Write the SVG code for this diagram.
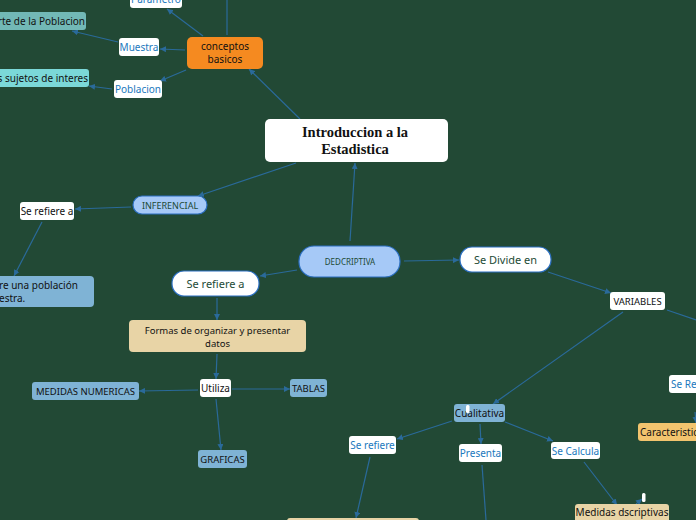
<svg xmlns="http://www.w3.org/2000/svg" width="696" height="520" viewBox="0 0 696 520">
<defs>
<marker id="ah" viewBox="0 0 6 6" refX="6" refY="3" markerWidth="6" markerHeight="6" markerUnits="userSpaceOnUse" orient="auto">
<path d="M0,0 L6,3 L0,6 z" fill="#2a6a9a"/>
</marker>
<style>
.c{stroke:#2a6a9a;stroke-width:1.2;fill:none;marker-end:url(#ah)}
.cn{stroke:#2a6a9a;stroke-width:1.2;fill:none}
.t{font-family:"Noto Sans","Open Sans","DejaVu Sans",sans-serif;font-size:10px;text-anchor:middle}
.k{fill:#111}
.b{fill:#1a78bd}
.g{fill:#1d4a36}
.w{fill:#fff}
.sb{fill:#7fb3d5}
.tan{fill:#e8d4a6}
.pill{fill:#a6c9f7;stroke:#2b6fc2;stroke-width:1.2}
.wp{fill:#fff;stroke:#2b6fc2;stroke-width:1.2}
</style>
</defs>
<rect width="696" height="520" fill="#224935"/>
<g id="connectors">
<line class="cn" x1="227" y1="0" x2="227" y2="35"/>
<line class="c" x1="203" y1="36" x2="167" y2="9"/>
<line class="c" x1="185" y1="50" x2="160" y2="49"/>
<line class="c" x1="118" y1="42" x2="72" y2="31"/>
<line class="c" x1="186" y1="70" x2="160" y2="81"/>
<line class="c" x1="112" y1="89" x2="89" y2="86"/>
<line class="c" x1="300" y1="119" x2="249" y2="69"/>
<line class="c" x1="296" y1="163" x2="198" y2="196"/>
<line class="c" x1="131" y1="207" x2="75" y2="209"/>
<line class="c" x1="42" y1="222" x2="14" y2="276"/>
<line class="c" x1="350" y1="241" x2="355" y2="163"/>
<line class="c" x1="297" y1="270" x2="260" y2="276"/>
<line class="c" x1="404" y1="261" x2="459" y2="260"/>
<line class="c" x1="548" y1="272" x2="611" y2="293"/>
<line class="cn" x1="667" y1="310" x2="696" y2="320"/>
<line class="c" x1="623" y1="312" x2="493" y2="404"/>
<line class="c" x1="452" y1="421" x2="397" y2="439"/>
<line class="c" x1="480" y1="424" x2="481" y2="444"/>
<line class="c" x1="505" y1="422" x2="553" y2="441"/>
<line class="c" x1="584" y1="462" x2="617" y2="505"/>
<line class="c" x1="370" y1="457" x2="356" y2="518"/>
<line class="cn" x1="482" y1="465" x2="486" y2="520"/>
<line class="c" x1="217" y1="298" x2="217" y2="320"/>
<line class="c" x1="217" y1="354" x2="216" y2="379"/>
<line class="c" x1="198" y1="390" x2="139" y2="391"/>
<line class="c" x1="232" y1="389" x2="290" y2="389"/>
<line class="c" x1="216" y1="399" x2="221" y2="450"/>
<line class="c" x1="695" y1="412" x2="696" y2="423"/>
<line class="c" x1="636" y1="504" x2="642" y2="499"/>
</g>
<g id="parametro"><rect class="w" x="130" y="-12" width="52" height="20" rx="3"/><text class="t b" x="156" y="3">Parametro</text></g>
<g id="conceptos"><rect x="187" y="37" width="76" height="32" rx="5" fill="#f58a20"/><text class="t k" x="225" y="50">conceptos</text><text class="t k" x="225" y="63">basicos</text></g>
<g id="muestra"><rect class="w" x="119" y="38" width="40" height="18" rx="3"/><text class="t b" x="139" y="51">Muestra</text></g>
<g id="parte"><rect x="-20" y="12" width="106" height="18" rx="3" fill="#72b8b6"/><text class="t k" x="85" y="25" text-anchor="end" style="text-anchor:end">Parte de la Poblacion</text></g>
<g id="poblacion"><rect class="w" x="114" y="80" width="48" height="18" rx="3"/><text class="t b" x="138" y="93">Poblacion</text></g>
<g id="sujetos"><rect x="-20" y="69" width="109" height="18" rx="3" fill="#7bd8d8"/><text class="t k" x="88" y="82" style="text-anchor:end">s sujetos de interes</text></g>
<g id="intro"><rect class="w" x="265" y="119" width="183" height="43" rx="5"/><text x="355" y="137" font-family="'Liberation Serif','DejaVu Serif',serif" font-weight="bold" font-size="14.5" text-anchor="middle" fill="#111">Introduccion a la</text><text x="355" y="154" font-family="'Liberation Serif','DejaVu Serif',serif" font-weight="bold" font-size="14.5" text-anchor="middle" fill="#111">Estadistica</text></g>
<g id="inferencial"><rect class="pill" x="133" y="196" width="74" height="18" rx="9"/><text class="t g" x="170" y="208.5" style="font-size:9px">INFERENCIAL</text></g>
<g id="serefiere1"><rect class="w" x="20" y="202" width="54" height="18" rx="3"/><text class="t k" x="47" y="215">Se refiere a</text></g>
<g id="poblacionmuestra"><rect x="-20" y="276" width="114" height="31" rx="4" fill="#7fb3d5"/><text class="t k" x="-1" y="289" style="text-anchor:start">re una población</text><text class="t k" x="-1" y="302" style="text-anchor:start">estra.</text></g>
<g id="dedcriptiva"><rect class="pill" x="299" y="246" width="101" height="31" rx="15"/><text class="t g" x="350" y="264.5" style="font-size:8px">DEDCRIPTIVA</text></g>
<g id="serefiere2"><rect class="wp" x="172" y="271" width="87" height="25" rx="12"/><text class="t g" x="215.5" y="287.5" style="font-size:11px">Se refiere a</text></g>
<g id="sedivide"><rect class="wp" x="460" y="247" width="91" height="25" rx="12"/><text class="t g" x="505.5" y="264" style="font-size:11px">Se Divide en</text></g>
<g id="variables"><rect class="w" x="610" y="292" width="55" height="18" rx="3"/><text class="t k" x="637.5" y="305" style="font-size:9.5px">VARIABLES</text></g>
<g id="serefiere3"><rect class="w" x="669" y="375" width="40" height="18" rx="3"/><text class="t b" x="671" y="388" style="text-anchor:start">Se Refiere</text></g>
<g id="caracteristicas"><rect x="638" y="423" width="70" height="18" rx="3" fill="#f2c46e"/><text class="t k" x="640" y="436" style="text-anchor:start">Caracteristicas</text></g>
<g id="cualitativa"><rect class="sb" x="454" y="404" width="51" height="18" rx="3"/><text class="t k" x="479.5" y="417">Cualitativa</text><rect x="466" y="405" width="3.5" height="8" rx="1.5" fill="#fff"/></g>
<g id="serefiere4"><rect class="w" x="349" y="436" width="47" height="18" rx="3"/><text class="t b" x="372.5" y="449">Se refiere</text></g>
<g id="presenta"><rect class="w" x="459" y="444" width="43" height="18" rx="3"/><text class="t b" x="480.5" y="457">Presenta</text></g>
<g id="secalcula"><rect class="w" x="551" y="442" width="49" height="17" rx="3"/><text class="t b" x="575.5" y="455">Se Calcula</text></g>
<g id="medidasdesc"><rect class="tan" x="575" y="504" width="94" height="22" rx="3"/><text class="t k" x="622" y="516">Medidas dscriptivas</text><rect x="642" y="493" width="3.5" height="9" rx="1.5" fill="#fff"/></g>
<g id="bottomtan"><rect class="tan" x="287" y="518" width="132" height="10" rx="3"/></g>
<g id="formas"><rect class="tan" x="129" y="320" width="177" height="32" rx="4"/><text class="t k" x="217.5" y="334" style="font-size:9.5px">Formas de organizar y presentar</text><text class="t k" x="217.5" y="347" style="font-size:9.5px">datos</text></g>
<g id="utiliza"><rect class="w" x="200" y="379" width="31" height="18" rx="3"/><text class="t k" x="215.5" y="392">Utiliza</text></g>
<g id="medidasnum"><rect class="sb" x="32" y="382" width="107" height="18" rx="3"/><text class="t k" x="85.5" y="395" style="font-size:9.5px">MEDIDAS NUMERICAS</text></g>
<g id="tablas"><rect class="sb" x="290" y="379" width="37" height="18" rx="3"/><text class="t k" x="308.5" y="392" style="font-size:9.5px">TABLAS</text></g>
<g id="graficas"><rect class="sb" x="198" y="450" width="49" height="18" rx="3"/><text class="t k" x="222.5" y="463" style="font-size:9.5px">GRAFICAS</text></g>
</svg>
